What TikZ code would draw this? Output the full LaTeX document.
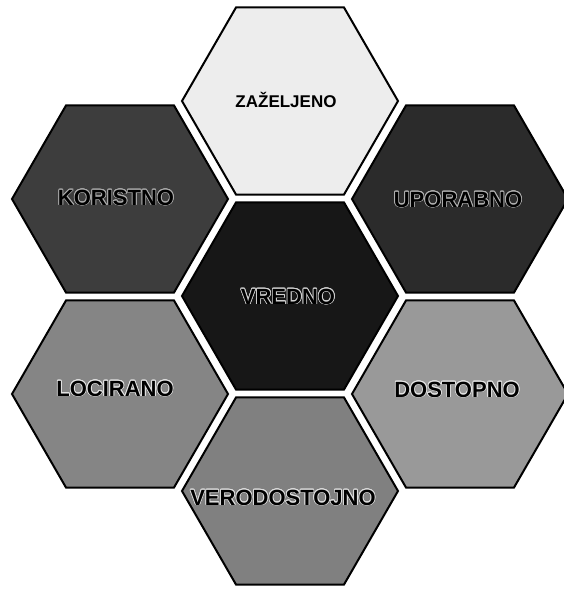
\documentclass[tikz,border=0pt]{standalone}
\usepackage{fontspec}
\setmainfont{Liberation Sans}
\usepackage{contour}
\contourlength{0.7pt}
\usepackage{tikz}
\usetikzlibrary{shapes.geometric}
\definecolor{hexlight}{gray}{0.93}
\definecolor{hexdark}{gray}{0.24}
\definecolor{hexdarker}{gray}{0.17}
\definecolor{hexblack}{gray}{0.09}
\definecolor{hexmid}{gray}{0.52}
\definecolor{hexmidlight}{gray}{0.60}
\definecolor{hexmiddark}{gray}{0.50}

\begin{document}
\begin{tikzpicture}[x=1pt,y=-1pt,
  hexcell/.style={regular polygon, regular polygon sides=6,
    minimum size=216pt, inner sep=0pt, draw=black, line width=2pt},
  lbl/.style={font=\bfseries\fontsize{22}{24}\selectfont, text=black}]
\useasboundingbox (0,0) rectangle (564,589);
\clip (0,0) rectangle (564,589);
\node[hexcell, fill=hexlight] (zazeljeno) at (290,101) {};
\node[hexcell, fill=hexdark] (koristno) at (120,199) {};
\node[hexcell, fill=hexdarker] (uporabno) at (460,199) {};
\node[hexcell, fill=hexblack] (vredno) at (290,296) {};
\node[hexcell, fill=hexmid] (locirano) at (120,394) {};
\node[hexcell, fill=hexmidlight] (dostopno) at (460,394) {};
\node[hexcell, fill=hexmiddark] (verodostojno) at (290,491) {};
% labels
\node[lbl, font=\bfseries\fontsize{17}{19}\selectfont] (lzaz) at (286,100) {ZAŽELJENO};
\node[lbl] (lkor) at (116,198) {\contour{gray!65}{KORISTNO}};
\node[lbl] (lupo) at (458,200) {\contour{gray!60}{UPORABNO}};
\node[lbl] (lvre) at (288,297) {\contour{gray!35}{VREDNO}};
\node[lbl] (lloc) at (115,389) {\contour{gray!20}{LOCIRANO}};
\node[lbl] (ldos) at (457,390) {\contour{gray!20}{DOSTOPNO}};
\node[lbl] (lver) at (283,498) {\contour{gray!25}{VERODOSTOJNO}};
\end{tikzpicture}
\end{document}
